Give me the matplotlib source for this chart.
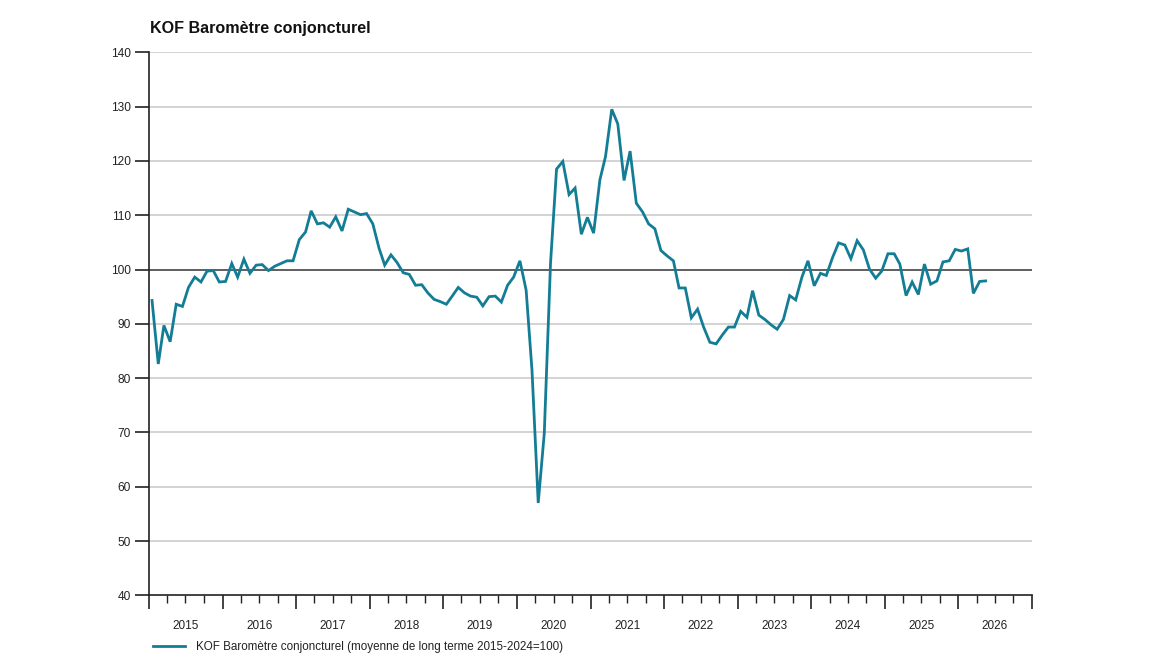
import matplotlib
matplotlib.use("Agg")
import matplotlib.pyplot as plt
import matplotlib.dates as mdates
import matplotlib.ticker as mticker
import pandas as pd
import numpy as np

plt.rcParams['font.family'] = ['Liberation Sans', 'DejaVu Sans']

title = "KOF Baromètre conjoncturel"
series_label = "KOF Baromètre conjoncturel (moyenne de long terme 2015-2024=100)"
start_month = "2015-01"

values_2015 = [94.3, 82.6, 89.7, 86.7, 93.6, 93.2, 96.7, 98.6, 97.7, 99.7, 99.8, 97.7]
values_2016 = [97.8, 101.1, 98.6, 101.9, 99.3, 100.8, 100.9, 99.8, 100.6, 101.1, 101.6, 101.6]
values_2017 = [105.5, 106.9, 110.8, 108.4, 108.6, 107.8, 109.7, 107.1, 111.1, 110.6, 110.1, 110.3]
values_2018 = [108.4, 103.9, 100.8, 102.7, 101.3, 99.4, 99.1, 97.1, 97.2, 95.7, 94.5, 94.1]
values_2019 = [93.6, 95.2, 96.7, 95.7, 95.1, 94.9, 93.3, 95.0, 95.1, 94.0, 97.1, 98.6]
values_2020 = [101.6, 96.2, 81.5, 57.0, 69.8, 101.1, 118.5, 119.9, 113.8, 115.0, 106.5, 109.6]
values_2021 = [106.7, 116.5, 120.8, 129.5, 126.8, 116.4, 121.8, 112.2, 110.6, 108.4, 107.5, 103.5]
values_2022 = [102.5, 101.6, 96.6, 96.6, 91.1, 92.7, 89.4, 86.6, 86.3, 87.9, 89.4, 89.4]
values_2023 = [92.3, 91.2, 96.1, 91.6, 90.8, 89.8, 89.0, 90.8, 95.2, 94.4, 98.6, 101.6]
values_2024 = [97.0, 99.3, 98.9, 102.2, 104.9, 104.5, 102.0, 105.3, 103.6, 100.1, 98.4, 99.7]
values_2025 = [102.9, 102.9, 101.0, 95.2, 97.7, 95.4, 101.0, 97.3, 97.9, 101.4, 101.6, 103.7]
values_2026 = [103.4, 103.8, 95.6, 97.8, 97.9]

values = (values_2015 + values_2016 + values_2017 + values_2018 + values_2019 + values_2020
          + values_2021 + values_2022 + values_2023 + values_2024 + values_2025 + values_2026)
dates = pd.date_range(start_month + "-01", periods=len(values), freq="MS") + pd.Timedelta(days=15)

y_ticks = [40, 50, 60, 70, 80, 90, 100, 110, 120, 130, 140]
year_labels = list(range(2015, 2027))

W, H = 1159, 664
fig = plt.figure(figsize=(W / 100, H / 100), dpi=100)
ax = fig.add_axes([149 / W, 1 - 595.3 / H, (1032 - 149) / W, (595.3 - 52.3) / H])

for v in y_ticks:
    if v == 100:
        ax.axhline(v, color="#333333", lw=1.1, zorder=1)
    elif v != 40:
        ax.axhline(v, color="#c8c8c8", lw=1.1, zorder=1)

ax.plot(dates, values, color="#137d95", lw=2.0, zorder=3, solid_joinstyle="miter",
        label=series_label)

ax.set_xlim(pd.Timestamp("2015-01-01"), pd.Timestamp("2027-01-01"))
ax.set_ylim(40, 140)
ax.set_yticks(y_ticks)
ax.set_yticklabels([str(v) for v in y_ticks], fontsize=8.6, color="#222222")

ax.xaxis.set_major_locator(mdates.YearLocator())
ax.xaxis.set_major_formatter(mticker.NullFormatter())
ax.xaxis.set_minor_locator(mdates.MonthLocator(bymonth=[1, 4, 7, 10]))


def minor_fmt(x, pos):
    d = mdates.num2date(x)
    return str(d.year) if d.month == 7 else ""


ax.xaxis.set_minor_formatter(mticker.FuncFormatter(minor_fmt))

ax.tick_params(axis="x", which="major", length=10, width=1.2, color="#222222", direction="out")
ax.tick_params(axis="x", which="minor", length=5.5, width=1.0, color="#222222",
               direction="out", pad=12.5, labelsize=8.5, labelcolor="#222222")
ax.tick_params(axis="y", which="major", length=10, width=1.2, color="#222222",
               direction="out", pad=3)

for s in ["top", "right"]:
    ax.spines[s].set_visible(False)
for s in ["left", "bottom"]:
    ax.spines[s].set_color("#222222")
    ax.spines[s].set_linewidth(1.2)

fig.text(150 / W, 1 - 28 / H, title, fontsize=11.65, fontweight="bold", va="center", ha="left",
         color="#111111")

leg = fig.legend(handles=ax.get_lines()[-1:], labels=[series_label], loc="center left",
                 bbox_to_anchor=(143 / W, 1 - 647 / H), frameon=False, fontsize=8.35,
                 handlelength=2.7, handletextpad=1.0)
for t in leg.get_texts():
    t.set_color("#222222")

fig.savefig("out.png", dpi=100)
